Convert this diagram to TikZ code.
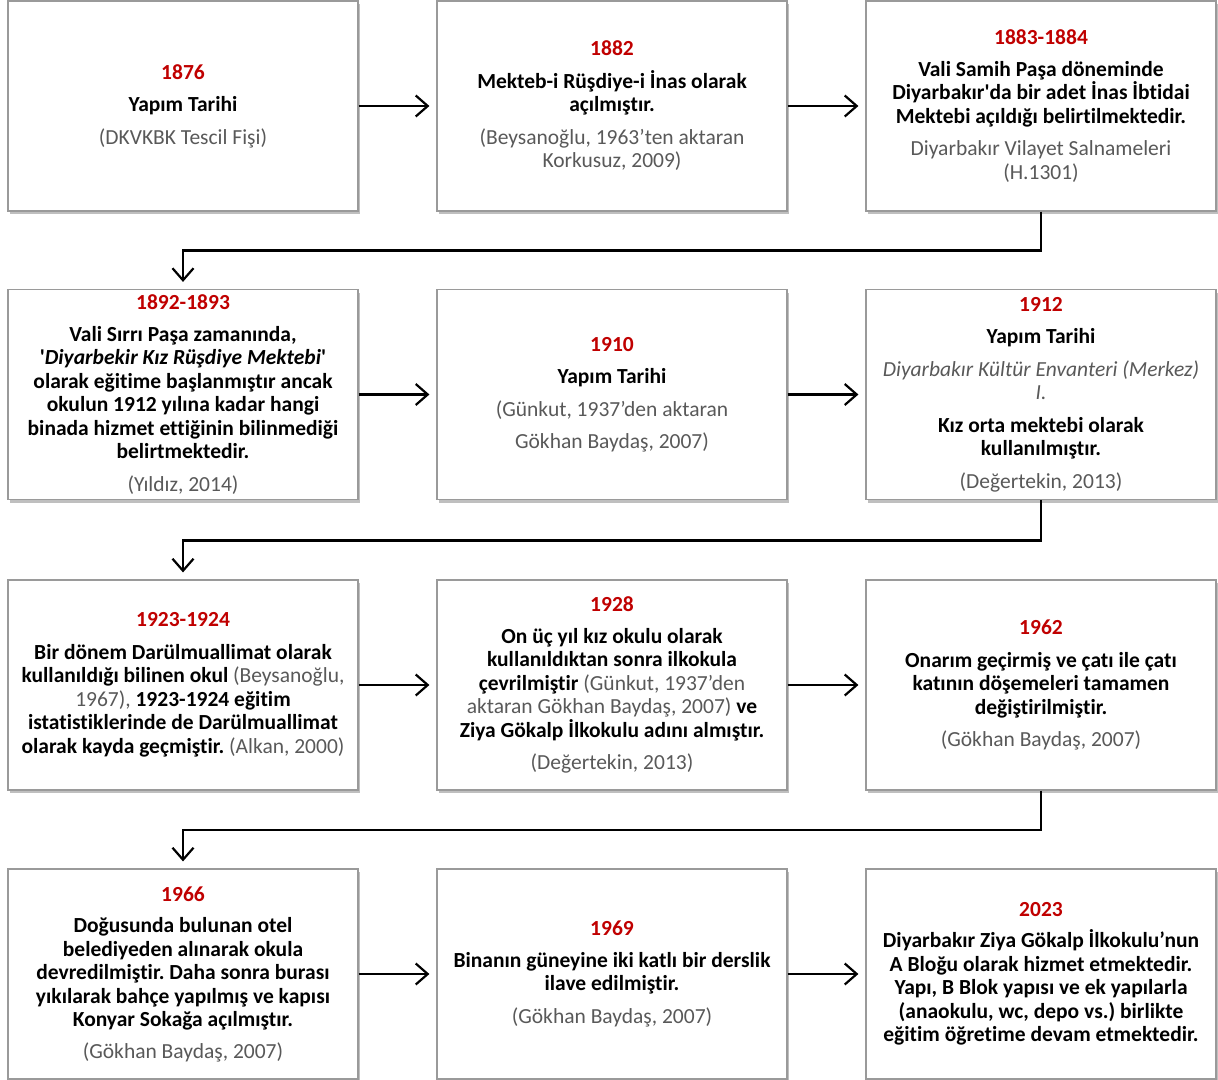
\documentclass[tikz,border=0pt]{standalone}
\usepackage{fontspec}
\setmainfont{Carlito}[Ligatures={NoCommon}]
\usetikzlibrary{arrows.meta,shadows}
\definecolor{yrred}{HTML}{C00000}
\definecolor{citgray}{HTML}{595959}
\definecolor{boxline}{HTML}{9A9A9A}
\newcommand\yr[1]{{\color{yrred}#1}}
\newcommand\cit[1]{{\mdseries\color{citgray}#1}}
\frenchspacing
\tikzset{
  tlbox/.style={draw=boxline, line width=1.2pt, fill=white, minimum width=350pt, minimum height=210pt,
    align=center, inner sep=0pt,
    font=\fontsize{21.5}{23.5}\selectfont\bfseries\frenchspacing,
    drop shadow={shadow xshift=2pt, shadow yshift=-3pt, fill=black, opacity=0.25}},
  arr/.style={line width=2.4pt, -{Straight Barb[length=12pt,width=21pt,line width=2.2pt]}, shorten >=7pt},
  turn/.style={line width=2.4pt, -{Straight Barb[length=12pt,width=21pt,line width=2.2pt]}, shorten >=7pt}
}
\begin{document}
\begin{tikzpicture}[x=1pt,y=1pt]
\useasboundingbox (0,0) rectangle (1218,-1079);
% row 1
\node[tlbox] (b1) at (183,-106) {\yr{1876}\\[9pt] Yapım Tarihi\\[9pt] \cit{(DKVKBK Tescil Fişi)}};
\node[tlbox] (b2) at (612,-106) {\yr{1882}\\[9pt] Mekteb-i Rüşdiye-i İnas olarak\\ açılmıştır.\\[9pt] \cit{(Beysanoğlu, 1963’ten aktaran}\\ \cit{Korkusuz, 2009)}};
\node[tlbox] (b3) at (1041,-106) {\yr{1883-1884}\\[8pt] Vali Samih Paşa döneminde\\ Diyarbakır\textquotesingle da bir adet İnas İbtidai\\ Mektebi açıldığı belirtilmektedir.\\[9pt] \cit{Diyarbakır Vilayet Salnameleri}\\ \cit{(H.1301)}};
% row 2
\node[tlbox] (b4) at (183,-394.5) {\yr{1892-1893}\\[8pt] Vali Sırrı Paşa zamanında,\\ \textquotesingle\textit{Diyarbekir Kız Rüşdiye Mektebi}\textquotesingle\\ olarak eğitime başlanmıştır ancak\\ okulun 1912 yılına kadar hangi\\ binada hizmet ettiğinin bilinmediği\\ belirtmektedir.\\[9pt] \cit{(Yıldız, 2014)}};
\node[tlbox] (b5) at (612,-394.5) {\yr{1910}\\[9pt] Yapım Tarihi\\[9pt] \cit{(Günkut, 1937’den aktaran}\\[9pt] \cit{Gökhan Baydaş, 2007)}};
\node[tlbox] (b6) at (1041,-394.5) {\yr{1912}\\[9pt] Yapım Tarihi\\[9pt] \cit{\itshape Diyarbakır Kültür Envanteri (Merkez)}\\ \cit{\itshape I.}\\[9pt] Kız orta mektebi olarak\\ kullanılmıştır.\\[9pt] \cit{(Değertekin, 2013)}};
% row 3
\node[tlbox] (b7) at (183,-685) {\yr{1923-1924}\\[9pt] Bir dönem Darülmuallimat olarak\\ kullanıldığı bilinen okul \cit{(Beysanoğlu,}\\ \cit{1967),} 1923-1924 eğitim\\ istatistiklerinde de Darülmuallimat\\ olarak kayda geçmiştir. \cit{(Alkan, 2000)}};
\node[tlbox] (b8) at (612,-685) {\yr{1928}\\[8pt] On üç yıl kız okulu olarak\\ kullanıldıktan sonra ilkokula\\ çevrilmiştir \cit{(Günkut, 1937’den}\\ \cit{aktaran Gökhan Baydaş, 2007)} ve\\ Ziya Gökalp İlkokulu adını almıştır.\\[9pt] \cit{(Değertekin, 2013)}};
\node[tlbox] (b9) at (1041,-685) {\yr{1962}\\[9pt] Onarım geçirmiş ve çatı ile çatı\\ katının döşemeleri tamamen\\ değiştirilmiştir.\\[9pt] \cit{(Gökhan Baydaş, 2007)}};
% row 4
\node[tlbox] (b10) at (183,-974) {\yr{1966}\\[8pt] Doğusunda bulunan otel\\ belediyeden alınarak okula\\ devredilmiştir. Daha sonra burası\\ yıkılarak bahçe yapılmış ve kapısı\\ Konyar Sokağa açılmıştır.\\[8pt] \cit{(Gökhan Baydaş, 2007)}};
\node[tlbox] (b11) at (612,-974) {\yr{1969}\\[8pt] Binanın güneyine iki katlı bir derslik\\ ilave edilmiştir.\\[9pt] \cit{(Gökhan Baydaş, 2007)}};
\node[tlbox] (b12) at (1041,-974) {\yr{2023}\\[8pt] Diyarbakır Ziya Gökalp İlkokulu’nun\\ A Bloğu olarak hizmet etmektedir.\\ Yapı, B Blok yapısı ve ek yapılarla\\ (anaokulu, wc, depo vs.) birlikte\\ eğitim öğretime devam etmektedir.};
% horizontal arrows
\draw[arr] (b1) -- (b2);
\draw[arr] (b2) -- (b3);
\draw[arr] (b4) -- (b5);
\draw[arr] (b5) -- (b6);
\draw[arr] (b7) -- (b8);
\draw[arr] (b8) -- (b9);
\draw[arr] (b10) -- (b11);
\draw[arr] (b11) -- (b12);
% turn connectors
\draw[turn] (b3.south) -- ++(0,-39) -| (b4.north);
\draw[turn] (b6.south) -- ++(0,-40.5) -| (b7.north);
\draw[turn] (b9.south) -- ++(0,-39.5) -| (b10.north);
\end{tikzpicture}
\end{document}
